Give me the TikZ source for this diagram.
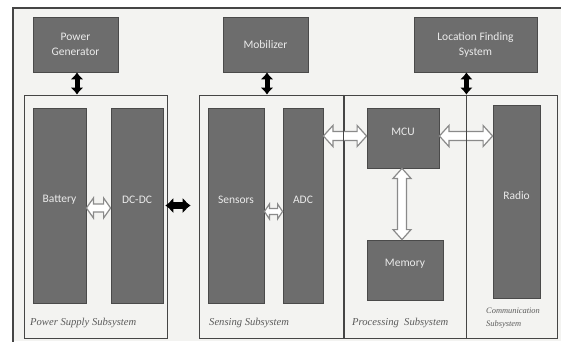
\documentclass[tikz,border=0pt]{standalone}
\usepackage{fontspec}
\setmainfont{Carlito}
\newfontfamily\capfont{Liberation Serif}
\usetikzlibrary{arrows.meta,calc}
\definecolor{blockfill}{HTML}{6D6D6D}
\definecolor{blockline}{HTML}{4A4A4A}
\definecolor{paper}{HTML}{F3F3F1}
\definecolor{frameline}{HTML}{454545}
\definecolor{hollowline}{HTML}{8A8A8A}
\definecolor{captxt}{HTML}{5A5A5A}
\tikzset{
  block/.style={draw=blockline, line width=0.8pt, fill=blockfill, inner sep=0pt},
  blocktxt/.style={text=white!92!black, font=\fontsize{11.5}{13}\selectfont, inner sep=0pt},
  subsys/.style={draw=frameline, line width=0.8pt, inner sep=0pt},
  caption/.style={font=\capfont\itshape\fontsize{10.6}{13}\selectfont, text=captxt, inner sep=0pt, anchor=west},
  smallcap/.style={font=\capfont\itshape\fontsize{8.4}{12.5}\selectfont, text=captxt, inner sep=0pt, anchor=north west, align=left},
  blackarrow/.style={line width=5pt, black, {Latex[length=7pt,width=13pt]}-{Latex[length=7pt,width=13pt]}},
  hollowarrow/.style={draw=hollowline, line width=1.2pt, fill=white, line join=miter},
}
\newcommand{\boxat}[6]{% name, x1, y1, x2, y2, style
  \node[#6, minimum width={#4-#2}, minimum height={#5-#3}] (#1) at ({(#2+#4)/2},{(#3+#5)/2}) {};}
% hollow double arrow: start, end, head length, shaft half width, head half width
\newcommand{\harrow}[5]{%
  \coordinate (ha) at (#1);
  \coordinate (hb) at (#2);
  \coordinate (h1) at ($(ha)!#3!(hb)$);
  \coordinate (h2) at ($(hb)!#3!(ha)$);
  \draw[hollowarrow] (ha) -- ($(h1)!#5!90:(hb)$) -- ($(h1)!#4!90:(hb)$)
    -- ($(h2)!#4!-90:(ha)$) -- ($(h2)!#5!-90:(ha)$) -- (hb)
    -- ($(h2)!#5!90:(ha)$) -- ($(h2)!#4!90:(ha)$)
    -- ($(h1)!#4!-90:(hb)$) -- ($(h1)!#5!-90:(hb)$) -- cycle;}
\begin{document}
\begin{tikzpicture}[x=1pt, y=-1pt]
\useasboundingbox (0,0) rectangle (561,341);
\fill[white] (0,0) rectangle (561,341);
\fill[paper] (13,8) rectangle (561,341);
\draw[frameline, line width=1.3pt] (13,345) -- (13,8) -- (565,8);
% top blocks
\boxat{pg}{33}{17}{118}{72}{block}
\boxat{mob}{223}{17}{308}{72}{block}
\boxat{loc}{414}{17}{537}{72}{block}
\node[blocktxt, align=center] at (pg.center) {Power\\[2pt]Generator};
\node[blocktxt] at (mob.center) {Mobilizer};
\node[blocktxt, align=center] at (loc.center) {Location Finding\\[2pt]System};
% subsystem frames
\boxat{ps}{24}{95}{167}{338}{subsys}
\boxat{sens}{199}{95}{344}{338}{subsys}
\boxat{proc}{344}{95}{466}{338}{subsys}
\boxat{comm}{466}{95}{557}{338}{subsys}
% inner blocks
\boxat{bat}{33}{108}{86}{303}{block}
\boxat{dcdc}{111}{108}{163}{303}{block}
\boxat{sen}{208}{108}{264}{303}{block}
\boxat{adc}{283}{108}{323}{303}{block}
\boxat{mcu}{367}{108}{439}{168}{block}
\boxat{mem}{367}{240}{443}{300}{block}
\boxat{rad}{493}{105}{540}{298}{block}
\node[blocktxt] at ([yshift=6pt]bat.center) {Battery};
\node[blocktxt] at ([yshift=6pt]dcdc.center) {DC-DC};
\node[blocktxt] at ([yshift=6pt]sen.center) {Sensors};
\node[blocktxt] at ([yshift=6pt]adc.center) {ADC};
\node[blocktxt] at ([yshift=6pt]rad.center) {Radio};
\node[blocktxt] at ([yshift=6pt]mcu.center) {MCU};
\node[blocktxt] at ([yshift=6pt]mem.center) {Memory};
% captions
\node[caption] (cps) at (30,323) {Power Supply Subsystem};
\node[caption] (csens) at (209,323) {Sensing Subsystem};
\node[caption] (cproc) at (352,323) {Processing\ \ Subsystem};
\node[smallcap] (ccomm) at (486,308) {Communication\\Subsystem};
% hollow arrows
\harrow{[yshift=-2.5pt]bat.east}{[yshift=-2.5pt]dcdc.west}{7pt}{4pt}{10pt}
\harrow{[yshift=-6pt]sen.east}{[yshift=-6pt]adc.west}{5pt}{3pt}{7.5pt}
\harrow{[yshift=2pt]adc.east |- mcu.east}{[yshift=2pt]mcu.west}{9.5pt}{4.5pt}{10.5pt}
\harrow{[yshift=2pt]mcu.east}{[yshift=2pt]rad.west |- mcu.east}{9.5pt}{4.5pt}{10.5pt}
\harrow{[xshift=-1pt]mcu.south}{[xshift=-1pt]mcu.south |- mem.north}{10pt}{4.5pt}{9pt}
% subsystem dividers show through the hollow arrows
\draw[frameline, line width=0.8pt] (proc.north west) -- (proc.south west);
\draw[frameline, line width=0.8pt] (proc.north east) -- (proc.south east);
% black arrows
\draw[blackarrow] ([xshift=1.5pt]pg.south) -- ([xshift=1.5pt]pg.south |- ps.north);
\draw[blackarrow] ([xshift=1.5pt]mob.south) -- ([xshift=1.5pt]mob.south |- sens.north);
\draw[blackarrow] (proc.north east |- loc.south) -- (proc.north east);
\draw[line width=7pt, black, {Latex[length=8pt,width=16pt]}-{Latex[length=8pt,width=16pt]}] ([xshift=2pt]dcdc.east) -- ([xshift=-8pt]sens.west |- dcdc.east);
\end{tikzpicture}
\end{document}
